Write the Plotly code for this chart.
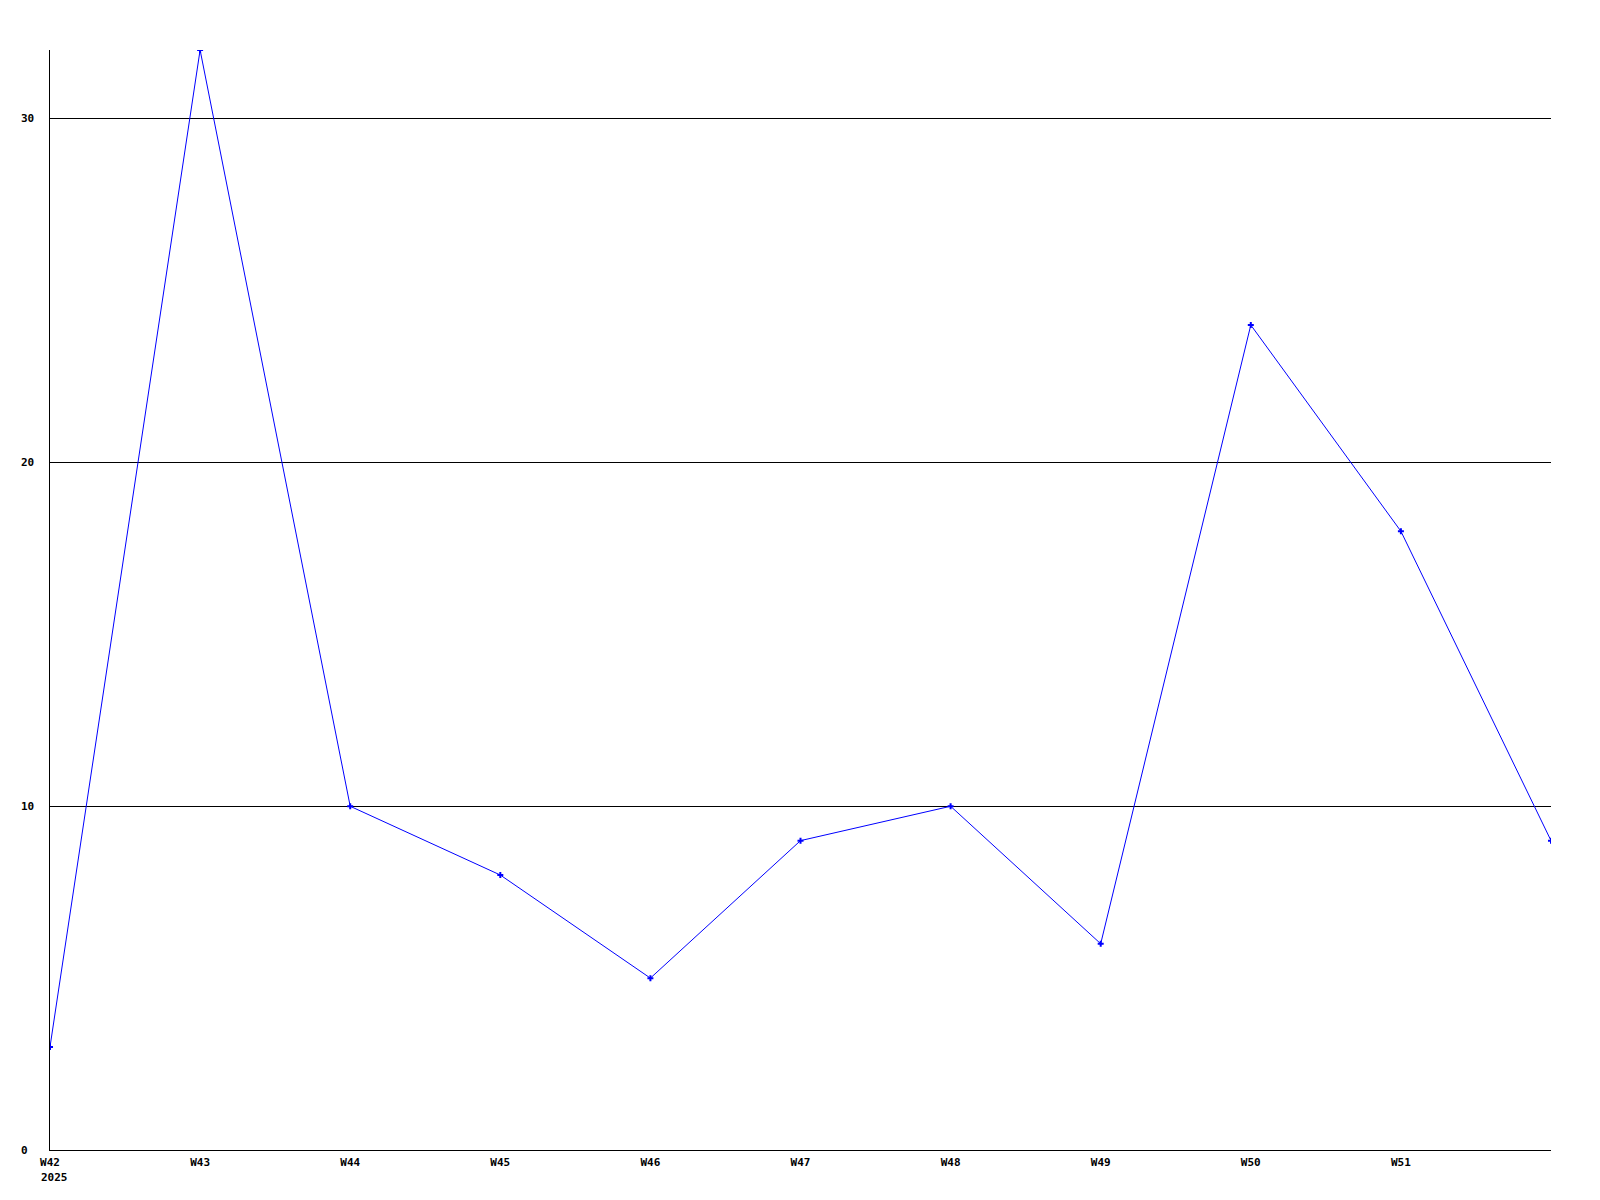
import plotly.graph_objects as go

weeks = ["W42", "W43", "W44", "W45", "W46", "W47", "W48", "W49", "W50", "W51", "W52"]
values = [3, 32, 10, 8, 5, 9, 10, 6, 24, 18, 9]
tick_labels = ["W42", "W43", "W44", "W45", "W46", "W47", "W48", "W49", "W50", "W51"]
y_ticks = [0, 10, 20, 30]
year_label = "2025"

x_idx = list(range(len(weeks)))

fig = go.Figure()
fig.add_trace(go.Scatter(
    x=x_idx, y=values, mode="lines+markers",
    line=dict(color="#0000ff", width=1),
    marker=dict(symbol="cross", size=5, color="#0000ff", line=dict(width=0)),
    showlegend=False, hoverinfo="skip",
))

font = dict(family="DejaVu Sans Mono", size=11, color="black")

annotations = [dict(
    x=0, y=0, xref="x", yref="paper", text=f"<b>{year_label}</b>",
    showarrow=False, xanchor="left", yanchor="top", xshift=-11, yshift=-19,
    font=font,
)]
for v in y_ticks:
    annotations.append(dict(
        x=0, y=v, xref="paper", yref="y", text=f"<b>{v}</b>",
        showarrow=False, xanchor="left", yanchor="middle", xshift=-31,
        font=font,
    ))

fig.update_layout(
    width=1592, height=1192,
    margin=dict(l=42, r=49, t=42, b=50, autoexpand=False),
    paper_bgcolor="white", plot_bgcolor="white",
    font=font,
    xaxis=dict(
        range=[0, len(weeks) - 1],
        tickvals=list(range(len(tick_labels))), ticktext=[f"<b>{t}</b>" for t in tick_labels],
        showgrid=False, zeroline=False,
        showline=True, linecolor="black", linewidth=1,
        ticks="", ticklabelstandoff=2,
        tickfont=font, automargin=False,
    ),
    yaxis=dict(
        range=[0, 32],
        tickvals=y_ticks, showticklabels=False,
        showgrid=True, gridcolor="black", gridwidth=1,
        zeroline=False,
        showline=True, linecolor="black", linewidth=1,
        ticks="", automargin=False,
    ),
    annotations=annotations,
)

fig.write_html("out.html")
